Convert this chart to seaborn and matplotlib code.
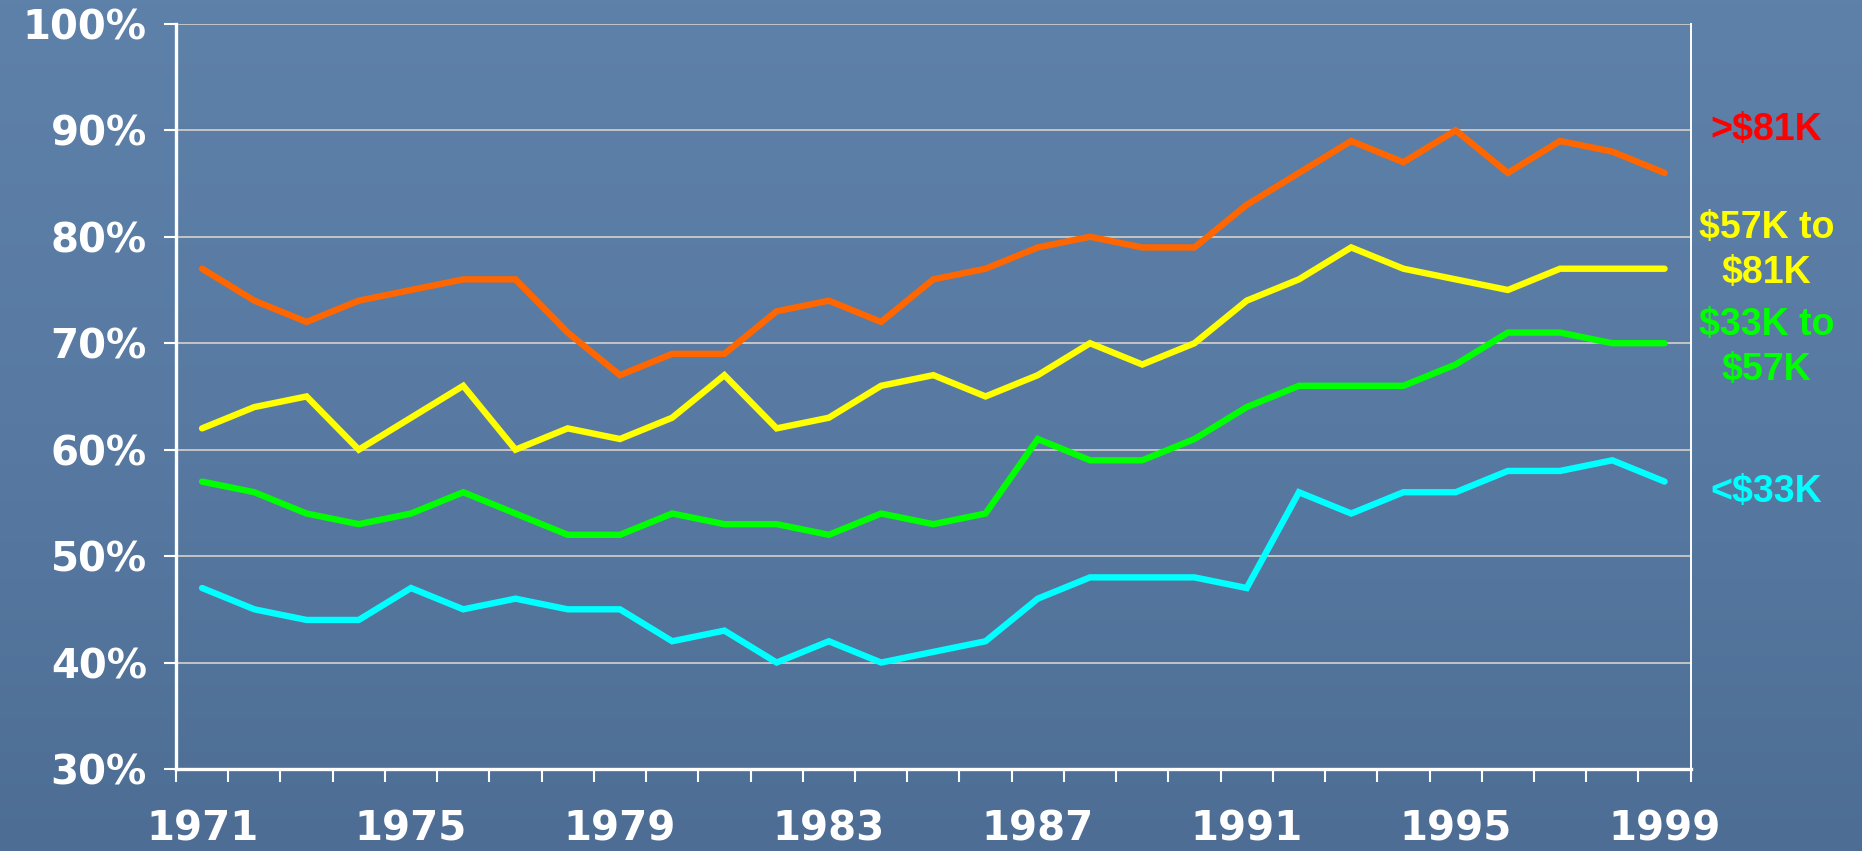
import numpy as np
import pandas as pd
import matplotlib
matplotlib.use("Agg")
import matplotlib.pyplot as plt
import matplotlib.transforms as mtransforms
from matplotlib.colors import LinearSegmentedColormap
import seaborn as sns

# Share of ... by income group, 1971-1999 (in %)
years = list(range(1971, 2000))
over_81k = [77, 74, 72, 74, 75, 76, 76, 71, 67, 69,
            69, 73, 74, 72, 76, 77, 79, 80, 79, 79,
            83, 86, 89, 87, 90, 86, 89, 88, 86]
k57_to_81 = [62, 64, 65, 60, 63, 66, 60, 62, 61, 63,
             67, 62, 63, 66, 67, 65, 67, 70, 68, 70,
             74, 76, 79, 77, 76, 75, 77, 77, 77]
k33_to_57 = [57, 56, 54, 53, 54, 56, 54, 52, 52, 54,
             53, 53, 52, 54, 53, 54, 61, 59, 59, 61,
             64, 66, 66, 66, 68, 71, 71, 70, 70]
under_33k = [47, 45, 44, 44, 47, 45, 46, 45, 45, 42,
             43, 40, 42, 40, 41, 42, 46, 48, 48, 48,
             47, 56, 54, 56, 56, 58, 58, 59, 57]

series_names = [">$81K", "$57K to\n$81K", "$33K to\n$57K", "<$33K"]
series_values = [over_81k, k57_to_81, k33_to_57, under_33k]
line_colors = ["#ff6600", "#ffff00", "#00ff00", "#00ffff"]
label_colors = ["#ff0000", "#ffff00", "#00ff00", "#00ffff"]
label_y = [90, 78.7, 69.6, 56]
year_ticks = [1971, 1975, 1979, 1983, 1987, 1991, 1995, 1999]
pct_ticks = [30, 40, 50, 60, 70, 80, 90, 100]

df = pd.concat(
    [pd.DataFrame({"year": years, "pct": vals, "group": name})
     for name, vals in zip(series_names, series_values)],
    ignore_index=True,
)

sns.set_style("white")
plt.rcParams["font.family"] = ["DejaVu Sans"]

fig = plt.figure(figsize=(18.62, 8.51), dpi=100)

# blue slide background
bg = fig.add_axes([0, 0, 1, 1], zorder=0)
cmap = LinearSegmentedColormap.from_list("slide", ["#5e81a9", "#587aa2", "#4d6d94"])
bg.imshow(np.linspace(0, 1, 256).reshape(-1, 1), aspect="auto", cmap=cmap,
          extent=[0, 1, 0, 1])
bg.axis("off")

ax = fig.add_axes([0.0945, 0.0964, 0.8135, 0.8755], zorder=1)
ax.set_facecolor("none")

sns.lineplot(data=df, x="year", y="pct", hue="group", palette=line_colors,
             hue_order=series_names, linewidth=4.6, legend=False, ax=ax,
             solid_joinstyle="miter")

ax.set_xlim(1970.5, 1999.5)
ax.set_ylim(30, 100)
ax.set_xlabel("")
ax.set_ylabel("")

ax.yaxis.grid(True, color="#c4c4c4", linewidth=1.4)
ax.xaxis.grid(False)
ax.set_axisbelow(True)

for side in ["left", "bottom"]:
    ax.spines[side].set_color("white")
    ax.spines[side].set_linewidth(2.4)
ax.spines["right"].set_color("white")
ax.spines["right"].set_linewidth(1.4)
ax.spines["top"].set_visible(False)

ax.set_yticks(pct_ticks)
ax.set_yticklabels([f"{p}%" for p in pct_ticks])
ax.tick_params(axis="y", colors="white", length=9, width=1.5, pad=12,
               labelsize=29, left=True)
for t in ax.get_yticklabels():
    t.set_fontweight("bold")

ax.set_xticks(year_ticks)
ax.set_xticklabels([str(y) for y in year_ticks])
ax.set_xticks(np.arange(1970.5, 2000, 1.0), minor=True)
ax.tick_params(axis="x", which="major", length=0, pad=29, labelsize=29,
               colors="white")
ax.tick_params(axis="x", which="minor", length=9, width=1.5, color="white",
               bottom=True)
for t in ax.get_xticklabels():
    t.set_fontweight("bold")

trans = mtransforms.blended_transform_factory(ax.transAxes, ax.transData)
for name, y, c in zip(series_names, label_y, label_colors):
    ax.text(1.05, y, name, transform=trans, ha="center", va="center",
            color=c, fontsize=27, fontweight="bold", family="Liberation Sans",
            multialignment="center", linespacing=1.3, clip_on=False)

fig.savefig("out.png", dpi=100)
